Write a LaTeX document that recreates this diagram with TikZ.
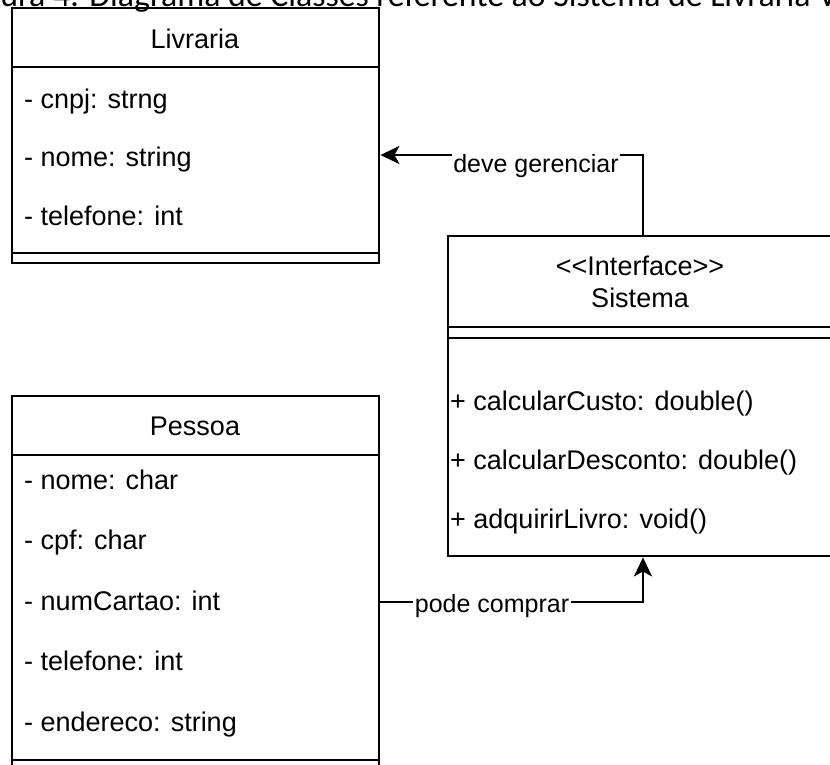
\documentclass[tikz,border=0pt]{standalone}
\usepackage{fontspec}
\setmainfont{Liberation Sans}
\newfontfamily\capfont{Carlito}
\usetikzlibrary{arrows.meta}
\begin{document}
\begin{tikzpicture}[x=1pt,y=-1pt,
  umlbox/.style={draw=black,line width=2.4pt,anchor=north west,inner sep=0pt},
  sepline/.style={line width=2.4pt},
  member/.style={anchor=base west,inner sep=0pt,font=\fontsize{27}{32}\selectfont},
  title/.style={anchor=base,inner sep=0pt,font=\fontsize{27}{32}\selectfont},
  conn/.style={line width=2.4pt,-{Stealth[length=19pt,width=18pt,inset=5pt]}},
  elabel/.style={anchor=base,fill=white,inner sep=1.5pt,font=\fontsize{25}{30}\selectfont}]
\useasboundingbox (0,0) rectangle (830,764);
\clip (0,0) rectangle (830,764);

% caption, cut by the top edge
\node[anchor=base west,inner sep=0pt,font=\capfont\fontsize{33.8}{40}\selectfont] (caption) at (-39,6)
  {Figura 4: Diagrama de Classes referente ao Sistema de Livraria Virtual};

% Livraria
\node[umlbox,minimum width=367pt,minimum height=255pt] (livraria) at (11,7) {};
\draw[sepline] (11,67) -- (378,67);
\draw[sepline] (11,253) -- (378,253);
\node[title] (livT) at (195,48) {Livraria};
\node[member] (liv1) at (24,108) {- cnpj: strng};
\node[member] (liv2) at (24,166) {- nome: string};
\node[member] (liv3) at (24,225) {- telefone: int};

% Sistema
\node[umlbox,minimum width=386pt,minimum height=320pt] (sistema) at (447,235) {};
\draw[sepline] (447,327) -- (833,327);
\draw[sepline] (447,338) -- (833,338);
\node[title] (sisS) at (640,275) {<{}<Interface>{}>};
\node[title] (sisT) at (640,307) {Sistema};
\node[member] (sis1) at (450,410) {+ calcularCusto: double()};
\node[member] (sis2) at (450,469) {+ calcularDesconto: double()};
\node[member] (sis3) at (450,528) {+ adquirirLivro: void()};

% Pessoa
\node[umlbox,minimum width=367pt,minimum height=380pt] (pessoa) at (11,395) {};
\draw[sepline] (11,455) -- (378,455);
\draw[sepline] (11,760) -- (378,760);
\node[title] (pesT) at (195,435) {Pessoa};
\node[member] (pes1) at (24,489) {- nome: char};
\node[member] (pes2) at (24,549.5) {- cpf: char};
\node[member] (pes3) at (24,610) {- numCartao: int};
\node[member] (pes4) at (24,670.5) {- telefone: int};
\node[member] (pes5) at (24,731) {- endereco: string};

% associations
\coordinate (g1) at (643,155);
\draw[conn] (g1 |- sistema.north) -- (g1) -- (g1 -| livraria.east);
\node[elabel] (gl) at (536,172) {deve gerenciar};

\coordinate (p1) at (643,602);
\draw[conn] (p1 -| pessoa.east) -- (p1) -- (p1 |- sistema.south);
\node[elabel] (pl) at (492,612) {pode comprar};
\end{tikzpicture}
\end{document}
